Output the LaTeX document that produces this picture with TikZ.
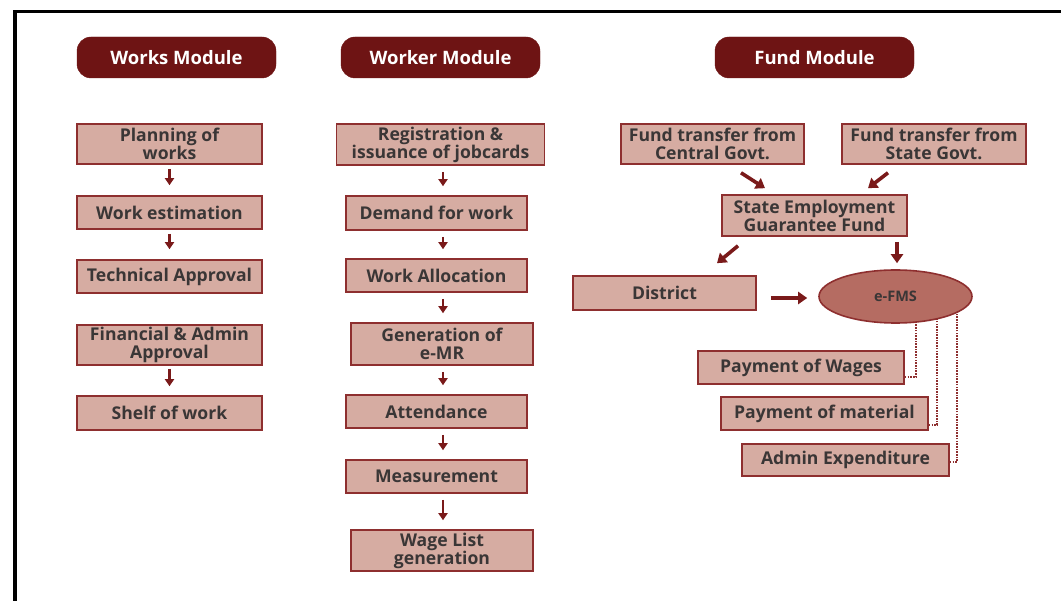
\documentclass[tikz,border=0pt]{standalone}
\usepackage{fontspec}
\setmainfont{Open Sans}
\usetikzlibrary{arrows.meta,shapes.geometric,calc}
\definecolor{hdr}{HTML}{6E1414}
\definecolor{boxfill}{HTML}{D6ACA2}
\definecolor{boxline}{HTML}{8E2F2F}
\definecolor{txt}{HTML}{3A3636}
\definecolor{arrowc}{HTML}{7A1A1A}
\definecolor{ellfill}{HTML}{B56C62}
\begin{document}
\begin{tikzpicture}[x=1pt,y=-1pt,
 hdrbox/.style={rounded corners=14pt, fill=hdr, draw=hdr, text=white, font=\fontsize{18.5}{20}\selectfont\bfseries, minimum width=199pt, minimum height=41pt, inner sep=0pt},
 pbox/.style={fill=boxfill, draw=boxline, line width=1.6pt, text=txt, font=\fontsize{17.6}{18}\selectfont\bfseries, align=center, inner sep=0pt},
 sarr/.style={draw=arrowc, line width=2.5pt, -{Triangle[width=9pt,length=7pt]}},
 barr/.style={draw=arrowc, line width=3.6pt, -{Triangle[width=12pt,length=9pt]}},
 dline/.style={draw=boxline, line width=2.8pt, dash pattern=on 1.6pt off 1.1pt}]
\useasboundingbox (0,0) rectangle (1061,601);
\fill[white] (0,0) rectangle (1061,601);
\draw[line width=3.5pt] (15,601) -- (15,11.5) -- (1061,11.5);
% headers
\node[hdrbox] (h1) at (176.5,57.5) {Works Module};
\node[hdrbox] (h2) at (440.5,57.5) {Worker Module};
\node[hdrbox] (h3) at (814.5,57.5) {Fund Module};
% works column
\node[pbox, minimum width=185pt, minimum height=40pt] (w1) at (169.5,144) {Planning of\\works};
\node[pbox, minimum width=185pt, minimum height=33pt] (w2) at (169.5,212.5) {Work estimation};
\node[pbox, minimum width=185pt, minimum height=33pt] (w3) at (169.5,276.5) {Technical Approval};
\node[pbox, minimum width=185pt, minimum height=40pt] (w4) at (169.5,345) {Financial \& Admin\\Approval};
\node[pbox, minimum width=185pt, minimum height=34pt] (w5) at (169.5,413) {Shelf of work};
\draw[sarr, shorten <=4pt, shorten >=10pt] (w1.south) -- (w2.north);
\draw[sarr, shorten <=4pt, shorten >=10pt] (w2.south) -- (w3.north);
\draw[sarr, shorten <=3pt, shorten >=9pt] (w4.south) -- (w5.north);
% worker column
\coordinate (ax) at (443,0);
\node[pbox, minimum width=208pt, minimum height=41pt] (k1) at (440.5,144.5) {Registration \&\\issuance of jobcards};
\node[pbox, minimum width=181pt, minimum height=34pt] (k2) at (436.5,213) {Demand for work};
\node[pbox, minimum width=181pt, minimum height=33pt] (k3) at (436.5,275.5) {Work Allocation};
\node[pbox, minimum width=182pt, minimum height=42pt] (k4) at (442,344) {Generation of\\e-MR};
\node[pbox, minimum width=181pt, minimum height=33pt] (k5) at (436.5,411.5) {Attendance};
\node[pbox, minimum width=181pt, minimum height=33pt] (k6) at (436.5,476.5) {Measurement};
\node[pbox, minimum width=182pt, minimum height=41pt] (k7) at (442,550.5) {Wage List\\generation};
\foreach \a/\b in {k1/k2,k2/k3,k3/k4,k4/k5,k5/k6,k6/k7}
  \draw[sarr, shorten <=6pt, shorten >=9pt] (\a.south -| ax) -- (\b.north -| ax);
% fund column
\node[pbox, minimum width=183pt, minimum height=40pt] (cen) at (712.5,144) {Fund transfer from\\Central Govt.};
\node[pbox, minimum width=184pt, minimum height=40pt] (stg) at (934,144) {Fund transfer from\\State Govt.};
\node[pbox, minimum width=185pt, minimum height=41pt] (segf) at (814.5,215.5) {State Employment\\Guarantee Fund};
\node[pbox, minimum width=183pt, minimum height=34pt] (dist) at (664.5,293) {District};
\node[ellipse, fill=ellfill, draw=boxline, line width=1.6pt, minimum width=153pt, minimum height=53pt, inner sep=0pt, text=txt, font=\fontsize{14.5}{16}\selectfont\bfseries] (efms) at (895.5,296.5) {e-FMS};
\node[pbox, minimum width=206pt, minimum height=33pt] (pw) at (801,367.5) {Payment of Wages};
\node[pbox, minimum width=207pt, minimum height=33pt] (pm) at (824.5,413.5) {Payment of material};
\node[pbox, minimum width=207pt, minimum height=32pt] (ae) at (845.5,460) {Admin Expenditure};
\draw[barr] ($(cen.south)+(28.5,8)$) -- ($(segf.north)+(-49.5,-6)$);
\draw[barr] ($(stg.south)+(-46,8)$) -- ($(segf.north)+(53.5,-6)$);
\draw[barr] ($(segf.south)+(-76.5,9)$) -- ($(dist.north)+(52.5,-12)$);
\draw[barr] ($(segf.south)+(82.5,5)$) -- ($(efms.north)+(1.5,-6)$);
\draw[barr] ($(dist.east)+(14,5)$) -- ($(efms.west)+(-11,1.5)$);
% dotted links
\draw[dline] ($(pw.east)+(0,9.5)$) -| ($(efms.center)+(20.5,25.5)$);
\draw[dline] ($(pm.east)+(0,11.5)$) -| ($(efms.center)+(41.5,22.3)$);
\draw[dline] ($(ae.east)+(0,2)$) -| ($(efms.center)+(61.5,15.8)$);
\end{tikzpicture}
\end{document}
